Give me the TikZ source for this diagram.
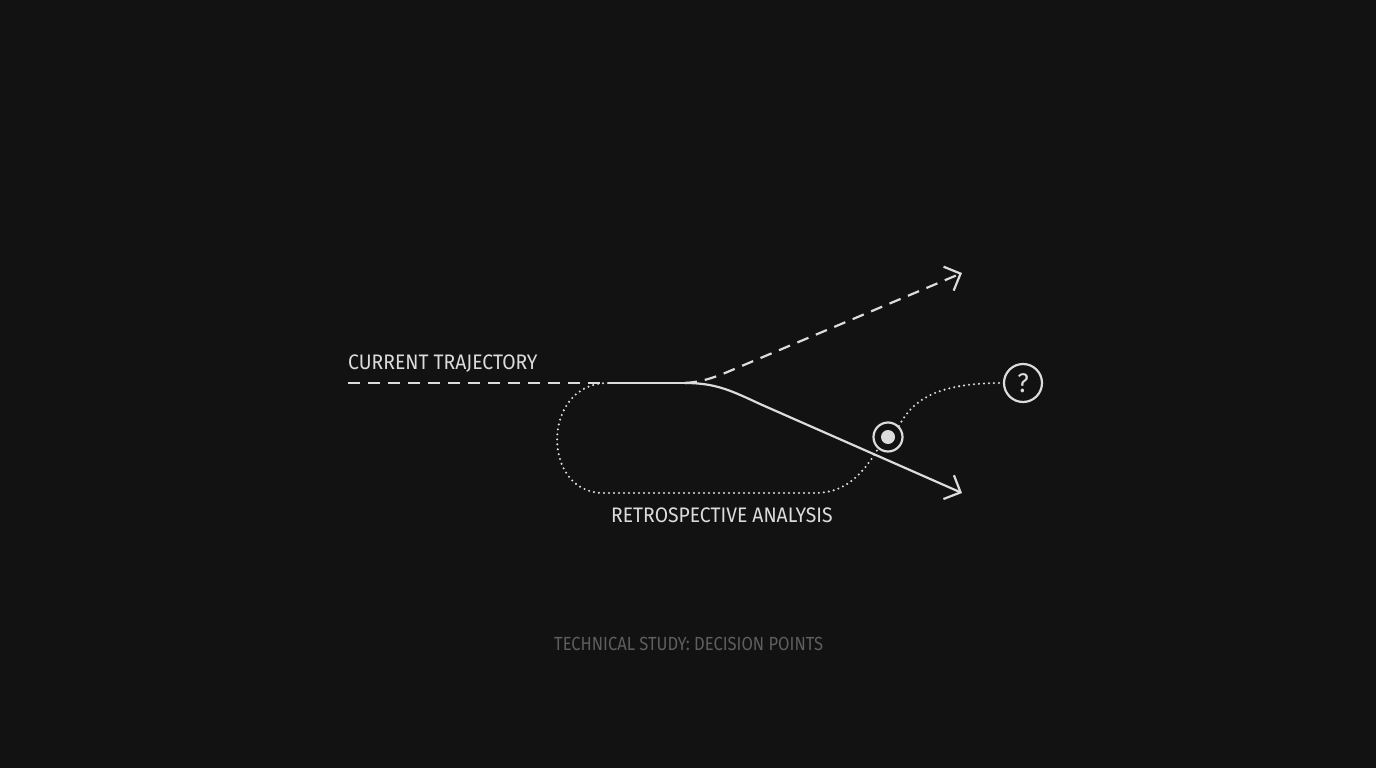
\documentclass[tikz,border=0pt]{standalone}
\usepackage{fontspec}
\setmainfont{Fira Sans}
\newfontfamily\lblfont{Fira Sans}[FakeStretch=0.92]
\newfontfamily\footfont{Fira Sans}[FakeStretch=0.87]
\usetikzlibrary{arrows.meta}
\definecolor{bg}{HTML}{121212}
\definecolor{ink}{HTML}{DCDCDC}
\definecolor{dim}{HTML}{5E5E5E}
\begin{document}
\begin{tikzpicture}[x=1pt,y=-1pt,
  ln/.style={draw=ink,line width=2.2pt},
  dashln/.style={ln,dash pattern=on 12pt off 8pt},
  dotln/.style={draw=ink,line width=2.3pt,line cap=round,dash pattern=on 0pt off 5pt},
  tip/.style={-{Straight Barb[length=13pt,width=26pt,line width=2.2pt]}},
  lbl/.style={text=ink,font=\lblfont\fontsize{21}{24}\selectfont,inner sep=0pt,anchor=base west},
  foot/.style={text=dim,font=\footfont\fontsize{19}{22}\selectfont,inner sep=0pt,anchor=base west}]
\fill[bg] (0,0) rectangle (1376,768);
\useasboundingbox (0,0) rectangle (1376,768);
% coordinates
\coordinate (s) at (348,383);
\coordinate (j) at (608,383);
\coordinate (f) at (685,383);
\coordinate (up) at (962,273);
\coordinate (dn) at (962,493);
\coordinate (lb) at (815,493);
% nodes
\node[circle,draw=ink,line width=2.2pt,minimum size=29pt,inner sep=0pt] (tgt) at (888,437) {};
\node[circle,fill=ink,minimum size=14pt,inner sep=0pt] (dot) at (tgt) {};
\node[circle,draw=ink,line width=2.2pt,minimum size=38pt,inner sep=0pt,text=ink,font=\lblfont\fontsize{27}{28}\selectfont] (q) at (1023,383) {?};
% main lines
\draw[dashln] (s) -- (j);
\draw[ln] (j) -- (f);
\draw[ln,tip] (f) .. controls (715,383) and (730,390) .. (760,404) -- (dn);
\draw[dashln,tip] (f) .. controls (700,382) and (710,379) .. (725,373) -- (up);
% dotted loop
\draw[dotln] (j) .. controls (541,383) and (541,493) .. (603,493) -- (lb) .. controls (845,493) and (862,475) .. (tgt.230);
\draw[dotln] (tgt.45) .. controls (915,395) and (945,383) .. (q.west);
% labels
\node[lbl] (l1) at (348,369) {CURRENT TRAJECTORY};
\node[lbl] (l2) at (611,522) {RETROSPECTIVE ANALYSIS};
\node[foot] (l3) at (554,650) {TECHNICAL STUDY: DECISION POINTS};
\end{tikzpicture}
\end{document}
